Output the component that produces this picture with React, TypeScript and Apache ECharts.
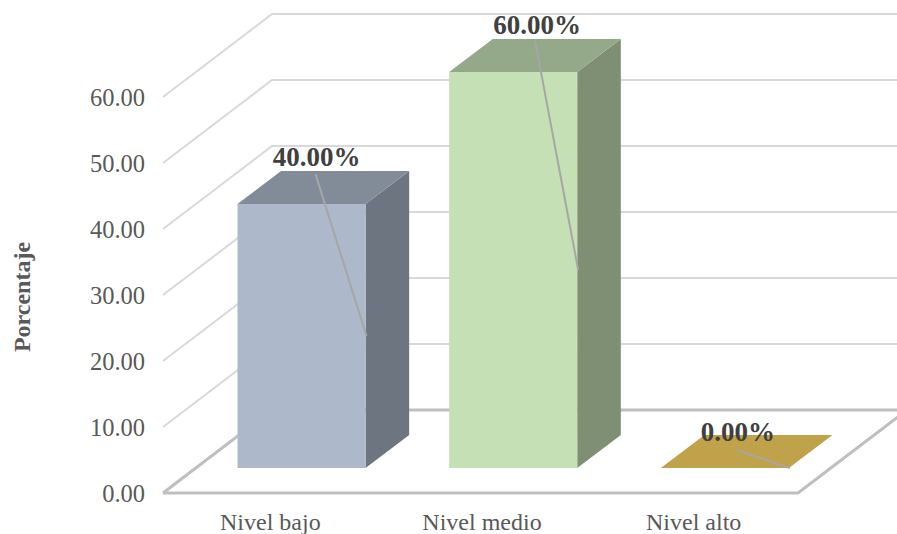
import React, { useEffect, useRef } from "react";
import * as echarts from "echarts";

const categories = ["Nivel bajo", "Nivel medio", "Nivel alto"];
const values = [40, 60, 0];
const dataLabels = ["40.00%", "60.00%", "0.00%"];
const axisTicks = [0, 10, 20, 30, 40, 50, 60];

const frontColors = ["#ADB9CA", "#C5E0B4", "#BFA24A"];
const sideColors = ["#6D7580", "#7F8F73", "#BFA24A"];
const topColors = ["#828B98", "#94A88A", "#BFA24A"];

// Layout of the oblique projection
const DEPTH_X = 109;
const DEPTH_Y = 83;
const GAP_FRAC = 0.3;
const BAR_DEPTH_FRAC = 0.4;
const BAR_WIDTH_FRAC = 0.605;
const labelOffsetX = [79, 88, 77];
const labelOffsetY = [-47, -47, -36];
const leaderStartOffsetX = [78, 86, 76];
const leaderStartOffsetY = [-30, -31, -18];

export default function App() {
  const ref = useRef<HTMLDivElement>(null);
  useEffect(() => {
    const chart = echarts.init(ref.current!, null, { renderer: "svg" });
    const serif = '"Liberation Serif", serif';
    chart.setOption({
      animation: false,
      backgroundColor: "#FFFFFF",
      grid: { left: 163, top: 97, width: 635, height: 396, outerBoundsMode: "none" },
      xAxis: {
        type: "category",
        data: categories,
        axisLine: { show: false },
        axisTick: { show: false },
        axisLabel: {
          color: "#595959",
          fontFamily: serif,
          fontSize: 24,
          margin: 17,
          padding: [0, 0, 0, 3],
        },
      },
      yAxis: {
        type: "value",
        min: 0,
        max: 60,
        interval: 10,
        name: "Porcentaje",
        nameLocation: "middle",
        nameGap: 129,
        nameTextStyle: {
          color: "#595959",
          fontFamily: serif,
          fontSize: 24,
          fontWeight: "bold",
          padding: [0, 4, 0, 0],
        },
        axisLine: { show: false },
        axisTick: { show: false },
        splitLine: { show: false },
        axisLabel: {
          color: "#595959",
          fontFamily: serif,
          fontSize: 24.5,
          margin: 18,
          formatter: (v: number) => v.toFixed(2),
        },
      },
      series: [
        {
          type: "custom",
          silent: true,
          z: 1,
          data: axisTicks.map((t) => [0, t]),
          renderItem: (params: any, api: any) => {
            const v = api.value(1);
            const y = api.coord([0, v])[1];
            const cs = params.coordSys;
            const x0 = cs.x;
            const x1 = cs.x + cs.width;
            const pts = [
              [x0, y],
              [x0 + DEPTH_X, y - DEPTH_Y],
              [x1 + DEPTH_X, y - DEPTH_Y],
            ];
            const style = {
              fill: "none",
              stroke: v === 0 ? "#BFBFBF" : "#D9D9D9",
              lineWidth: v === 0 ? 3 : 2,
            };
            const children: any[] = [{ type: "polyline", shape: { points: pts }, style }];
            if (v === 0) {
              children.push({
                type: "polyline",
                shape: {
                  points: [
                    [x0, y],
                    [x1, y],
                    [x1 + DEPTH_X, y - DEPTH_Y],
                  ],
                },
                style,
              });
            }
            return { type: "group", children };
          },
        },
        {
          type: "custom",
          silent: true,
          z: 2,
          data: values.map((v, i) => [i, v]),
          renderItem: (_params: any, api: any) => {
            const i = api.value(0);
            const v = api.value(1);
            const band = api.size([1, 0])[0];
            const w = band * BAR_WIDTH_FRAC;
            const cx = api.coord([i, 0])[0];
            const yFloor = api.coord([i, 0])[1];
            const h = yFloor - api.coord([i, v])[1];
            const bottom = yFloor - DEPTH_Y * GAP_FRAC;
            const top = bottom - h;
            const left = cx + DEPTH_X * GAP_FRAC - w / 2;
            const right = left + w;
            const dx = DEPTH_X * BAR_DEPTH_FRAC;
            const dy = DEPTH_Y * BAR_DEPTH_FRAC;
            return {
              type: "group",
              children: [
                {
                  type: "polygon",
                  shape: { points: [[right, top], [right + dx, top - dy], [right + dx, bottom - dy], [right, bottom]] },
                  style: { fill: sideColors[i] },
                },
                {
                  type: "polygon",
                  shape: { points: [[left, top], [left + dx, top - dy], [right + dx, top - dy], [right, top]] },
                  style: { fill: topColors[i] },
                },
                {
                  type: "rect",
                  shape: { x: left, y: top, width: w, height: h },
                  style: { fill: frontColors[i] },
                },
                {
                  type: "line",
                  shape: {
                    x1: left + leaderStartOffsetX[i],
                    y1: top + leaderStartOffsetY[i],
                    x2: right + 1,
                    y2: (top + bottom) / 2,
                  },
                  style: { stroke: "#A6A6A6", lineWidth: 2 },
                },
                {
                  type: "text",
                  x: left + labelOffsetX[i],
                  y: top + labelOffsetY[i],
                  style: {
                    text: dataLabels[i],
                    fill: "#404040",
                    font: `bold 27px ${serif}`,
                    textAlign: "center",
                    textVerticalAlign: "middle",
                  },
                },
              ],
            };
          },
        },
      ],
    });
    return () => chart.dispose();
  }, []);
  return (
    <div
      ref={ref}
      style={{ position: "absolute", left: 0, top: 0, width: 897, height: 534, overflow: "hidden" }}
    />
  );
}
